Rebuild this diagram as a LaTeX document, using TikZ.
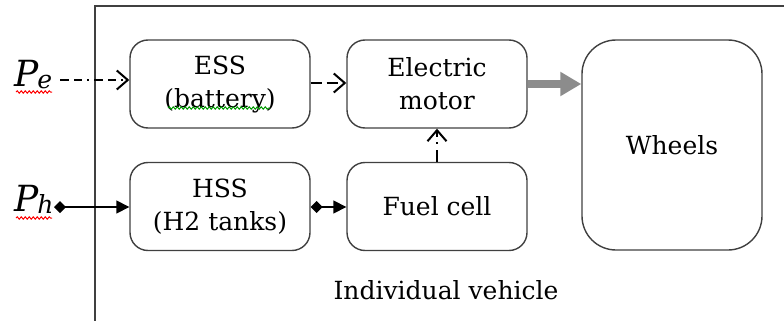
\documentclass[tikz,border=0pt]{standalone}
\usepackage{fontspec}
\setmainfont{DejaVu Serif}
\usetikzlibrary{arrows.meta,decorations.pathmorphing}
\definecolor{edge}{HTML}{404040}
\definecolor{arrgray}{HTML}{8C8C8C}
\newcommand{\plab}[1]{{\fontsize{36}{40}\selectfont\itshape P}\kern-1pt\raisebox{-2pt}{\fontsize{25}{28}\selectfont\itshape #1}}
\tikzset{
  txt/.style={font=\fontsize{25}{33}\selectfont},
  blk/.style={draw=edge, line width=1.4pt, rounded corners=18pt, minimum width=180pt, minimum height=88pt, align=center, txt, inner sep=0pt},
  conn/.style={line width=1.6pt, black},
  openhead/.style={-{Straight Barb[length=11pt,width=19pt,line width=2pt]}},
  diamfill/.style={{Diamond[length=12pt,width=12pt]}-{Triangle[length=13pt,width=13pt]}},
  squig/.style={decorate, decoration={snake, amplitude=1.2pt, segment length=4pt}, line width=1pt},
  plabel/.style={inner sep=0pt, anchor=base west},
}
\begin{document}
\begin{tikzpicture}[x=1pt,y=-1pt]
\useasboundingbox (0,0) rectangle (784,321);
\draw[edge, line width=2pt] (95,321) -- (95,6.5) -- (784,6.5);
\node[blk] (ess) at (220,84) {ESS\\(battery)};
\node[blk] (mot) at (437,84) {Electric\\motor};
\node[blk] (hss) at (220,206.5) {HSS\\(H2 tanks)};
\node[blk] (fc) at (437,206.5) {Fuel cell};
\node[blk, minimum height=210pt, rounded corners=34pt] (wh) at (672,145) {Wheels};
\node[txt] (iv) at (446,290) {Individual vehicle};
\node[plabel] (pe) at (14,86) {\plab{e}};
\node[plabel] (ph) at (14,211) {\plab{h}};
\coordinate (pes) at (60,80);
\coordinate (phs) at (54,207);
% wavy underlines
\draw[squig, red] (16,92) -- (52,92);
\draw[squig, red] (16,218) -- (52,218);
\draw[squig, green!60!black] (168,108) -- (270,108);
% connectors
\draw[conn, openhead, dash pattern=on 9pt off 5pt on 8pt off 5pt on 2pt off 5pt] (pes) -- (ess.west |- pes);
\draw[conn, openhead, dash pattern=on 11pt off 5pt] (ess.east |- 0,83) -- (mot.west |- 0,83);
\draw[conn, openhead, dash pattern=on 12pt off 6pt on 2pt off 5pt] (fc.north) -- (mot.south);
\draw[conn, diamfill] (phs) -- (hss.west |- phs);
\draw[conn, diamfill] (hss.east |- 0,207) -- (fc.west |- 0,207);
\draw[line width=8pt, color=arrgray, -{Triangle[length=21pt,width=23pt]}] (mot.east |- 0,84) -- (wh.west |- 0,84);
\end{tikzpicture}
\end{document}
